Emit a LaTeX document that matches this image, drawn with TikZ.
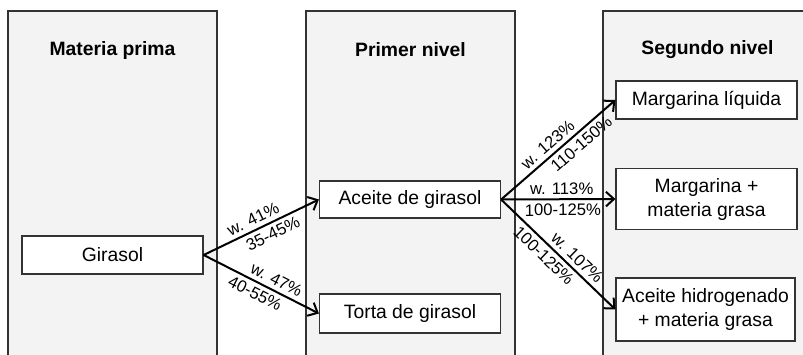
\documentclass[tikz,border=0pt]{standalone}
\usepackage{fontspec}
\setmainfont{Liberation Sans}
\usetikzlibrary{arrows.meta}
\definecolor{panelfill}{HTML}{F3F3F3}
\definecolor{edge}{HTML}{333333}
\begin{document}
\begin{tikzpicture}[x=0.75pt,y=-0.75pt,
  panel/.style={draw=edge,line width=0.9pt,fill=panelfill},
  head/.style={font=\fontsize{14.5}{17}\selectfont\bfseries},
  box/.style={draw=edge,line width=0.9pt,fill=white,inner sep=0pt,align=center,
    font=\fontsize{14.5}{18}\selectfont,minimum width=181*.75pt},
  flow/.style={line width=1.5pt,-{Straight Barb[length=6pt,width=11pt,line width=1.5pt]}},
  lab/.style={font=\fontsize{12.5}{14}\selectfont,sloped,inner sep=3pt}]
  \clip (0,0) rectangle (803,354);
  % columns
  \draw[panel] (8,380) -- (8,11) -- (217,11) -- (217,380);
  \draw[panel] (306,380) -- (306,11) -- (515,11) -- (515,380);
  \draw[panel] (603,380) -- (603,11) -- (830,11) -- (830,380);
  \node[head] (h1) at (112.5,50) {Materia prima};
  \node[head] (h2) at (410.5,50) {Primer nivel};
  \node[head] (h3) at (707.5,50) {Segundo nivel};
  % products
  \node[box,minimum height=38*.75pt] (gir) at (112.5,255) {Girasol};
  \node[box,minimum height=37*.75pt] (ace) at (410,199.5) {Aceite de girasol};
  \node[box,minimum height=39*.75pt] (tor) at (410,313.5) {Torta de girasol};
  \node[box,minimum height=38*.75pt] (mli) at (706.5,100) {Margarina líquida};
  \node[box,minimum height=61*.75pt] (mgr) at (706.5,199) {Margarina +\\materia grasa};
  \node[box,minimum height=63*.75pt,minimum width=179*.75pt] (ahg) at (705.5,309.5) {Aceite hidrogenado\\+ materia grasa};
  % yields
  \draw[flow] (gir.east) -- (ace.west)
    node[lab,above,pos=0.47] {w. 41\%}
    node[lab,below,pos=0.56] {35-45\%};
  \draw[flow] (gir.east) -- (tor.west)
    node[lab,above,pos=0.59] {w. 47\%}
    node[lab,below,pos=0.49] {40-55\%};
  \draw[flow] (ace.east) -- (mli.west)
    node[lab,above,pos=0.47] {w. 123\%}
    node[lab,below,pos=0.64] {110-150\%};
  \draw[flow] (ace.east) -- (mgr.west)
    node[lab,above,pos=0.53] {w. 113\%}
    node[lab,below,pos=0.54] {100-125\%};
  \draw[flow] (ace.east) -- (ahg.west)
    node[lab,above,pos=0.6] {w. 107\%}
    node[lab,below,pos=0.44] {100-125\%};
\end{tikzpicture}
\end{document}
